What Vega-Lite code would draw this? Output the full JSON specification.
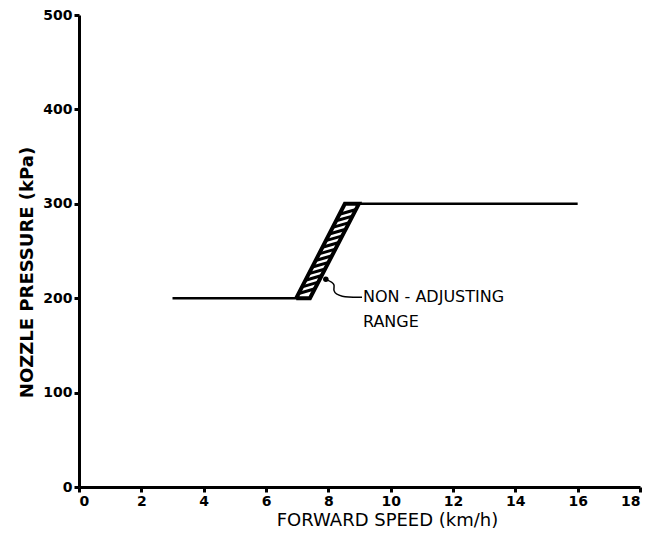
{
  "$schema": "https://vega.github.io/schema/vega-lite/v6.json",
  "width": 561,
  "height": 472,
  "autosize": {"type": "none"},
  "padding": {"left": 79, "top": 15, "right": 13, "bottom": 46},
  "background": "white",
  "config": {
    "view": {"stroke": null},
    "font": "DejaVu Sans",
    "axis": {
      "grid": false,
      "domainColor": "black",
      "domainWidth": 3,
      "tickColor": "black",
      "tickWidth": 3,
      "tickSize": 5,
      "labelColor": "black",
      "labelFont": "DejaVu Sans",
      "labelFontSize": 14,
      "labelFontWeight": "bold",
      "titleColor": "black",
      "titleFont": "DejaVu Sans"
    }
  },
  "datasets": {
    "lines": [
      {"series": "lower", "ord": 1, "speed": 3, "pressure": 200},
      {"series": "lower", "ord": 2, "speed": 7.41, "pressure": 200},
      {"series": "upper", "ord": 1, "speed": 8.53, "pressure": 300},
      {"series": "upper", "ord": 2, "speed": 16, "pressure": 300}
    ],
    "band": [
      {"series": "band", "ord": 1, "speed": 6.97, "pressure": 200},
      {"series": "band", "ord": 2, "speed": 7.41, "pressure": 200},
      {"series": "band", "ord": 3, "speed": 8.98, "pressure": 300},
      {"series": "band", "ord": 4, "speed": 8.53, "pressure": 300},
      {"series": "band", "ord": 5, "speed": 6.97, "pressure": 200}
    ],
    "hatch": [
      {"x1": 7.05, "y1": 205, "x2": 7.57, "y2": 210},
      {"x1": 7.16, "y1": 212, "x2": 7.68, "y2": 217},
      {"x1": 7.27, "y1": 219, "x2": 7.79, "y2": 224},
      {"x1": 7.38, "y1": 226, "x2": 7.90, "y2": 231},
      {"x1": 7.49, "y1": 233, "x2": 8.01, "y2": 238},
      {"x1": 7.59, "y1": 240, "x2": 8.12, "y2": 245},
      {"x1": 7.70, "y1": 247, "x2": 8.23, "y2": 252},
      {"x1": 7.81, "y1": 254, "x2": 8.34, "y2": 259},
      {"x1": 7.92, "y1": 261, "x2": 8.45, "y2": 266},
      {"x1": 8.03, "y1": 268, "x2": 8.56, "y2": 273},
      {"x1": 8.14, "y1": 275, "x2": 8.67, "y2": 280},
      {"x1": 8.25, "y1": 282, "x2": 8.78, "y2": 287},
      {"x1": 8.36, "y1": 289, "x2": 8.89, "y2": 294}
    ],
    "leader": [
      {"ord": 1, "speed": 7.92, "pressure": 220},
      {"ord": 2, "speed": 8.25, "pressure": 215},
      {"ord": 3, "speed": 8.12, "pressure": 208},
      {"ord": 4, "speed": 8.37, "pressure": 201},
      {"ord": 5, "speed": 9.08, "pressure": 201}
    ],
    "labels": [
      {"speed": 9.11, "pressure": 201, "text": "NON - ADJUSTING"},
      {"speed": 9.11, "pressure": 175, "text": "RANGE"}
    ]
  },
  "layer": [
    {
      "data": {"name": "lines"},
      "mark": {"type": "line", "color": "black", "strokeWidth": 2.5},
      "encoding": {
        "x": {
          "field": "speed", "type": "quantitative",
          "scale": {"domain": [0, 18], "nice": false},
          "axis": {
            "values": [0, 2, 4, 6, 8, 10, 12, 14, 16, 18],
            "title": "FORWARD SPEED (km/h)",
            "titleFontSize": 18,
            "titleFontWeight": "normal",
            "titlePadding": 3,
            "titleX": 308,
            "labelPadding": 2
          }
        },
        "y": {
          "field": "pressure", "type": "quantitative",
          "scale": {"domain": [0, 500], "nice": false},
          "axis": {
            "values": [0, 100, 200, 300, 400, 500],
            "title": "NOZZLE PRESSURE (kPa)",
            "titleFontSize": 18,
            "titleFontWeight": "bold",
            "titlePadding": 6,
            "titleY": 257,
            "labelPadding": 2
          }
        },
        "detail": {"field": "series"},
        "order": {"field": "ord"}
      }
    },
    {
      "data": {"name": "band"},
      "mark": {"type": "line", "color": "black", "strokeWidth": 4, "strokeJoin": "miter"},
      "encoding": {
        "x": {"field": "speed", "type": "quantitative"},
        "y": {"field": "pressure", "type": "quantitative"},
        "order": {"field": "ord"}
      }
    },
    {
      "data": {"name": "hatch"},
      "mark": {"type": "rule", "color": "black", "strokeWidth": 3},
      "encoding": {
        "x": {"field": "x1", "type": "quantitative"},
        "y": {"field": "y1", "type": "quantitative"},
        "x2": {"field": "x2"},
        "y2": {"field": "y2"}
      }
    },
    {
      "data": {"name": "leader"},
      "mark": {"type": "line", "color": "black", "strokeWidth": 1.5, "interpolate": "basis"},
      "encoding": {
        "x": {"field": "speed", "type": "quantitative"},
        "y": {"field": "pressure", "type": "quantitative"},
        "order": {"field": "ord"}
      }
    },
    {
      "data": {"name": "leader"},
      "transform": [{"filter": "datum.ord == 1"}],
      "mark": {"type": "point", "filled": true, "color": "black", "size": 30, "opacity": 1},
      "encoding": {
        "x": {"field": "speed", "type": "quantitative"},
        "y": {"field": "pressure", "type": "quantitative"}
      }
    },
    {
      "data": {"name": "labels"},
      "mark": {"type": "text", "align": "left", "baseline": "middle", "fontSize": 16, "font": "DejaVu Sans", "color": "black"},
      "encoding": {
        "x": {"field": "speed", "type": "quantitative"},
        "y": {"field": "pressure", "type": "quantitative"},
        "text": {"field": "text"}
      }
    },
    {
      "mark": {"type": "rule", "color": "black", "strokeWidth": 3},
      "encoding": {
        "x": {"datum": 18},
        "y": {"datum": 0},
        "y2": {"datum": 500}
      }
    }
  ]
}
